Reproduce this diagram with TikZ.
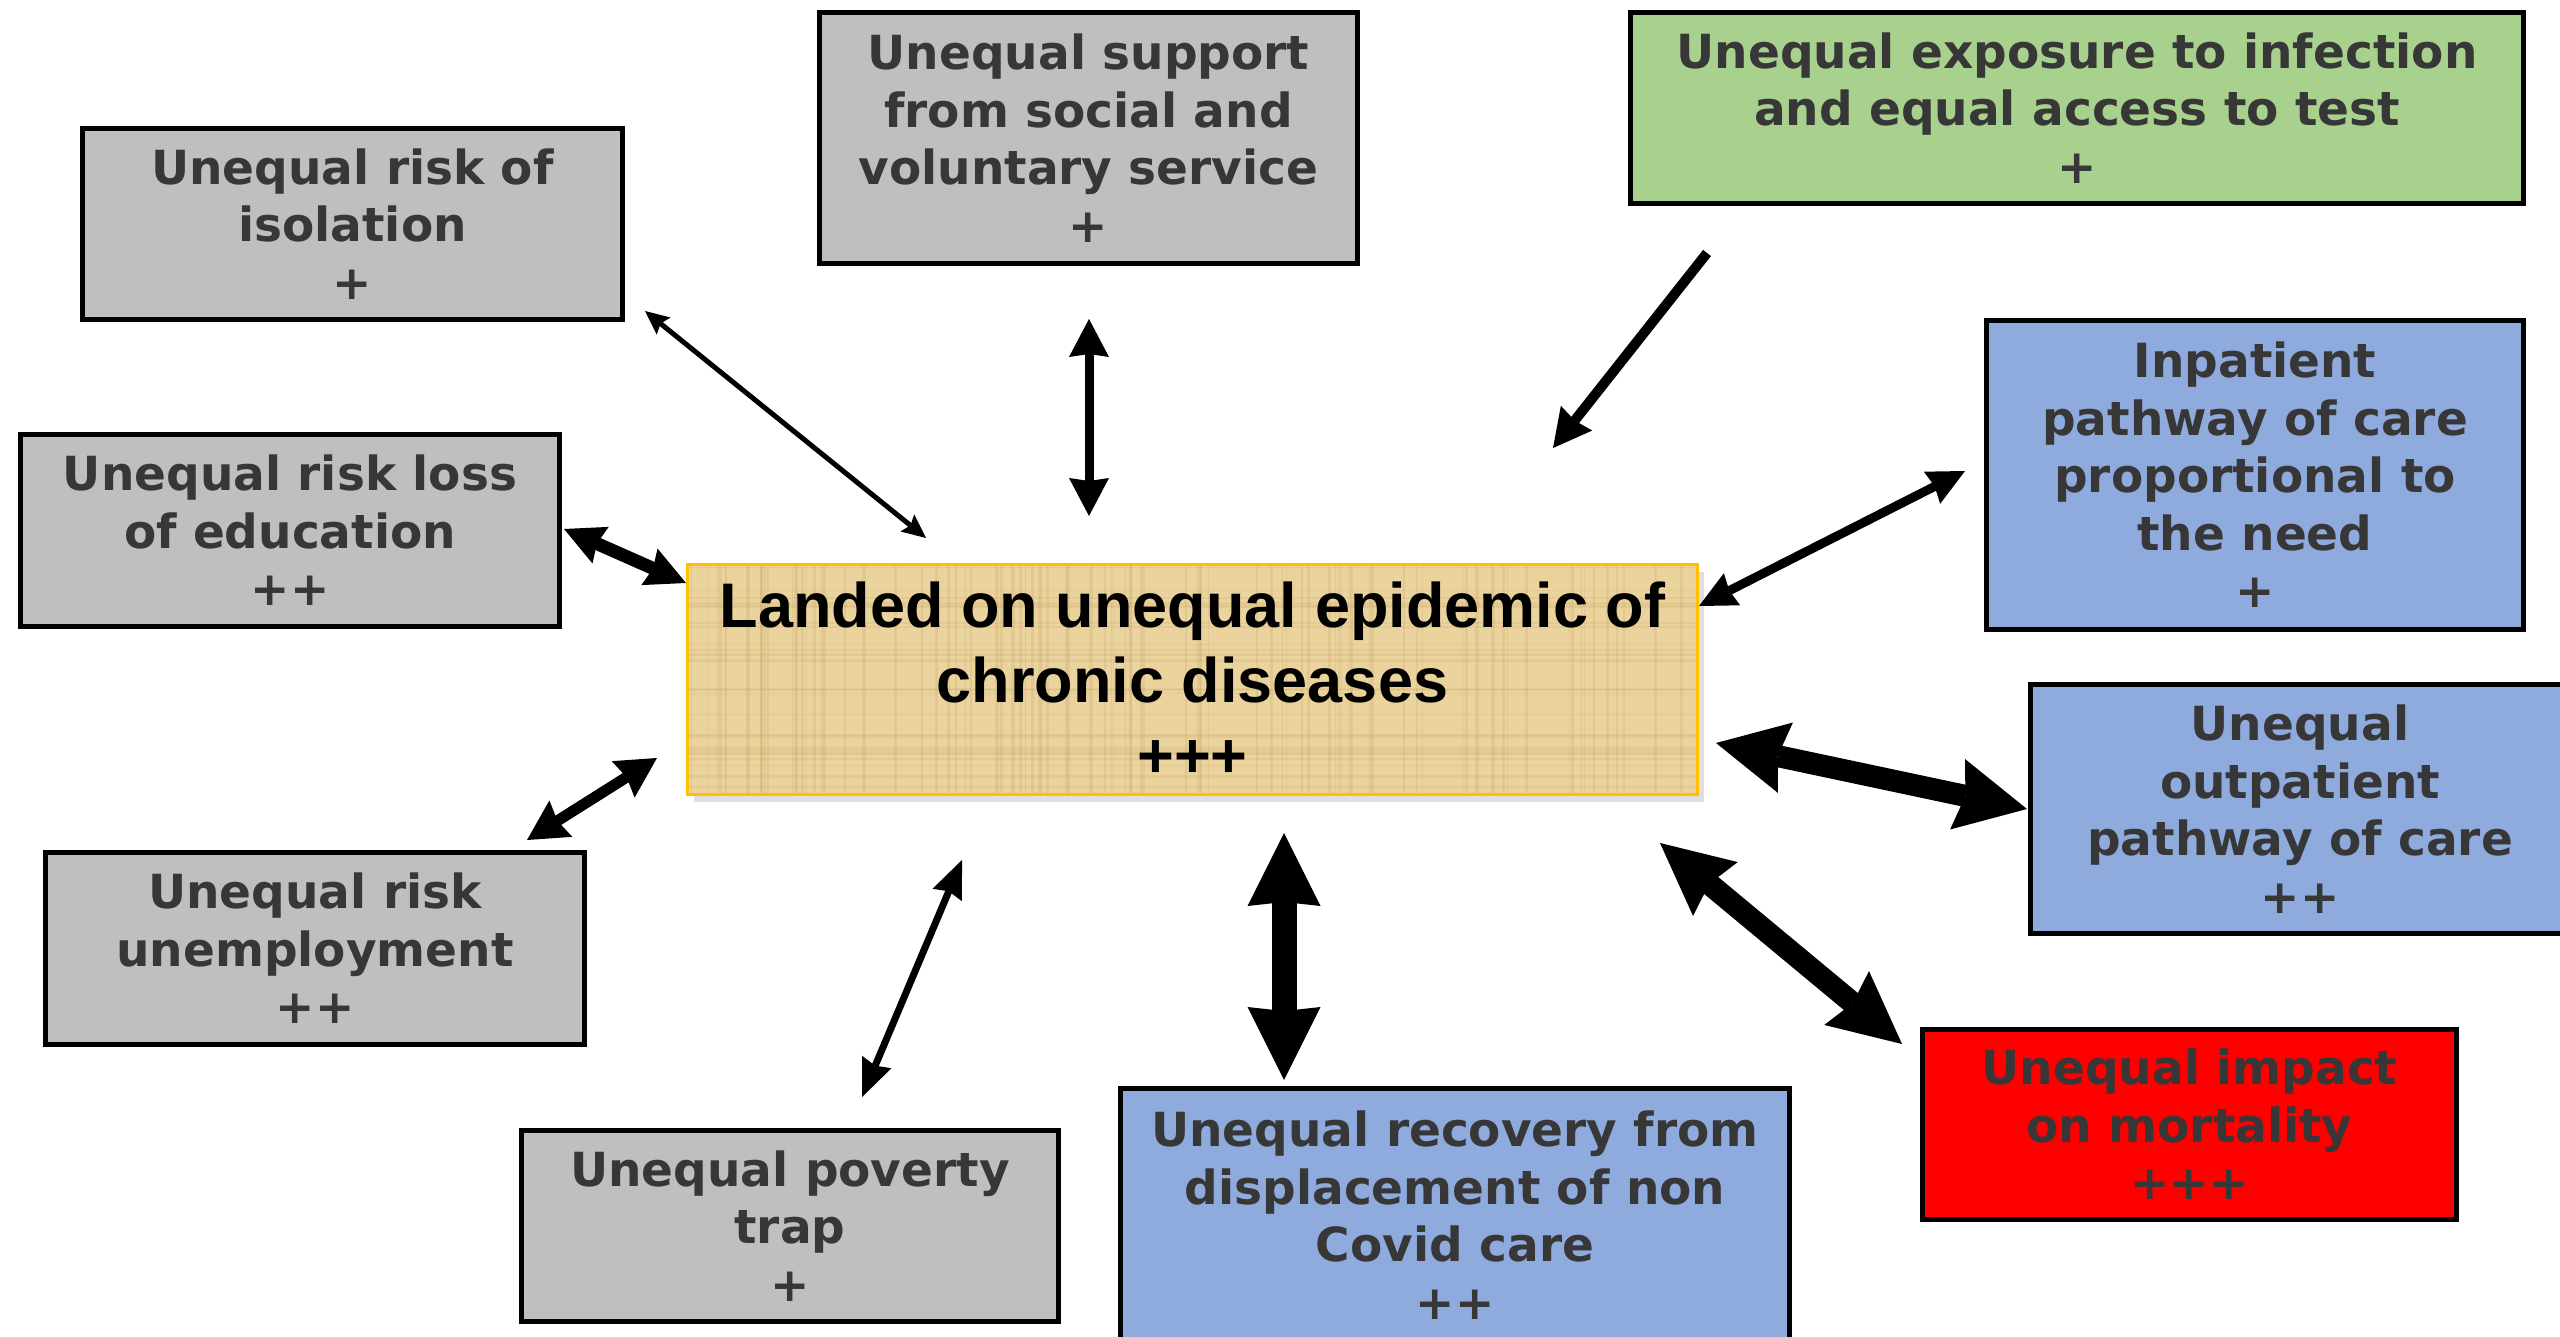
\documentclass[tikz,border=0pt]{standalone}
\usepackage{fontspec}
\setmainfont{DejaVu Sans}
\newfontfamily\hubfont{Liberation Sans}
\usetikzlibrary{arrows.meta,shadows,calc}

\definecolor{boxgrey}{RGB}{191,191,191}
\definecolor{boxgreen}{RGB}{169,209,142}
\definecolor{boxblue}{RGB}{143,170,220}
\definecolor{boxred}{RGB}{255,0,0}
\definecolor{labelgrey}{RGB}{55,55,55}
\definecolor{papyrus}{RGB}{234,211,157}
\definecolor{papyrusfibre}{RGB}{196,165,100}
\definecolor{papyrusedge}{RGB}{255,192,0}

\tikzset{
  factor/.style={draw=black, line width=5pt, text=labelgrey, align=center,
    inner sep=0pt, font=\fontsize{47}{57.5}\selectfont\bfseries},
  greyfactor/.style={factor, fill=boxgrey},
  greenfactor/.style={factor, fill=boxgreen},
  bluefactor/.style={factor, fill=boxblue},
  redfactor/.style={factor, fill=boxred},
  hub/.style={draw=papyrusedge, line width=3pt, fill=papyrus, align=center,
    inner sep=0pt, text=black, font=\hubfont\fontsize{63}{75}\selectfont\bfseries,
    drop shadow={opacity=.25, shadow xshift=6pt, shadow yshift=-7pt},
    path picture={
      \pgfmathsetseed{7}
      \foreach \k in {1,...,90}{
        \pgfmathsetmacro\fx{rnd}
        \pgfmathsetmacro\fw{0.6+3*rnd}
        \draw[papyrusfibre, opacity=.22, line width=\fw pt]
          ($(path picture bounding box.south west)!\fx!(path picture bounding box.south east)$)
          -- ($(path picture bounding box.north west)!\fx!(path picture bounding box.north east)$);
      }
      \foreach \k in {1,...,30}{
        \pgfmathsetmacro\fy{rnd}
        \pgfmathsetmacro\fw{0.6+2*rnd}
        \draw[papyrusfibre, opacity=.18, line width=\fw pt]
          ($(path picture bounding box.south west)!\fy!(path picture bounding box.north west)$)
          -- ($(path picture bounding box.south east)!\fy!(path picture bounding box.north east)$);
      }
    }},
  twoway/.style n args={4}{draw=black, line width=#1,
    arrows={Stealth[length=#2,width=#3,inset=#4,line width=0pt]-Stealth[length=#2,width=#3,inset=#4,line width=0pt]}},
  oneway/.style n args={4}{draw=black, line width=#1,
    arrows={-Stealth[length=#2,width=#3,inset=#4,line width=0pt]}},
}

\begin{document}
\begin{tikzpicture}[x=1pt, y=-1pt]
  \useasboundingbox (0,0) rectangle (2560,1337);
  \clip (0,0) rectangle (2560,1337);
  \fill[white] (0,0) rectangle (2560,1337);

  % central condition
  \node[hub, minimum width=1010pt, minimum height=230pt] (hub) at (1192.5,679.5)
    {Landed on unequal epidemic of\\chronic diseases\\+++};

  % surrounding factors
  \node[greyfactor, minimum width=540pt, minimum height=191pt] (iso) at (352.5,224)
    {Unequal risk of\\isolation\\+};
  \node[greyfactor, minimum width=538pt, minimum height=251pt] (sup) at (1088.5,138)
    {Unequal support\\from social and\\voluntary service\\+};
  \node[greenfactor, minimum width=893pt, minimum height=191pt] (exp) at (2077,108)
    {Unequal exposure to infection\\and equal access to test\\+};
  \node[bluefactor, minimum width=537pt, minimum height=309pt] (inp) at (2255,475)
    {Inpatient\\pathway of care\\proportional to\\the need\\+};
  \node[bluefactor, minimum width=539pt, minimum height=249pt] (outp) at (2300,809)
    {Unequal\\outpatient\\pathway of care\\++};
  \node[redfactor, minimum width=534pt, minimum height=190pt] (mort) at (2189.5,1124.5)
    {Unequal impact\\on mortality\\+++};
  \node[bluefactor, minimum width=669pt, minimum height=254pt] (rec) at (1455,1215)
    {Unequal recovery from\\displacement of non\\Covid care\\++};
  \node[greyfactor, minimum width=537pt, minimum height=191pt] (pov) at (790,1226)
    {Unequal poverty\\trap\\+};
  \node[greyfactor, minimum width=539pt, minimum height=192pt] (unemp) at (315,948.5)
    {Unequal risk\\unemployment\\++};
  \node[greyfactor, minimum width=539pt, minimum height=192pt] (edu) at (290,530.5)
    {Unequal risk loss\\of education\\++};

  % arrow end points
  \coordinate (iso-end)   at (645,311);   \coordinate (iso-hub)   at (926,538);
  \coordinate (sup-end)   at (1089,319);  \coordinate (sup-hub)   at (1089,516);
  \coordinate (exp-end)   at (1707,253);  \coordinate (exp-hub)   at (1553,448);
  \coordinate (inp-end)   at (1965,471);  \coordinate (inp-hub)   at (1699,606);
  \coordinate (outp-end)  at (2027,809);  \coordinate (outp-hub)  at (1716,743);
  \coordinate (mort-end)  at (1902,1044); \coordinate (mort-hub)  at (1660,843);
  \coordinate (rec-end)   at (1284,1080); \coordinate (rec-hub)   at (1284,833);
  \coordinate (pov-end)   at (862,1097);  \coordinate (pov-hub)   at (962,860);
  \coordinate (unemp-end) at (527,840);   \coordinate (unemp-hub) at (657,758);
  \coordinate (edu-end)   at (564,529);   \coordinate (edu-hub)   at (686,583);

  % links
  \draw[twoway={5pt}{24pt}{22pt}{4pt}]   (iso-end) -- (iso-hub);
  \draw[twoway={9pt}{38pt}{40pt}{3pt}]   (sup-end) -- (sup-hub);
  \draw[oneway={10pt}{38pt}{40pt}{3pt}]  (exp-end) -- (exp-hub);
  \draw[twoway={9pt}{37pt}{36pt}{3pt}]   (inp-end) -- (inp-hub);
  \draw[twoway={22pt}{71pt}{72pt}{8pt}]  (outp-end) -- (outp-hub);
  \draw[twoway={22pt}{72pt}{70pt}{8pt}]  (mort-end) -- (mort-hub);
  \draw[twoway={25pt}{73pt}{73pt}{4pt}]  (rec-end) -- (rec-hub);
  \draw[twoway={7pt}{38pt}{32pt}{4pt}]   (pov-end) -- (pov-hub);
  \draw[twoway={11pt}{40pt}{43pt}{4pt}]  (unemp-end) -- (unemp-hub);
  \draw[twoway={13pt}{40pt}{40pt}{4pt}]  (edu-end) -- (edu-hub);
\end{tikzpicture}
\end{document}
